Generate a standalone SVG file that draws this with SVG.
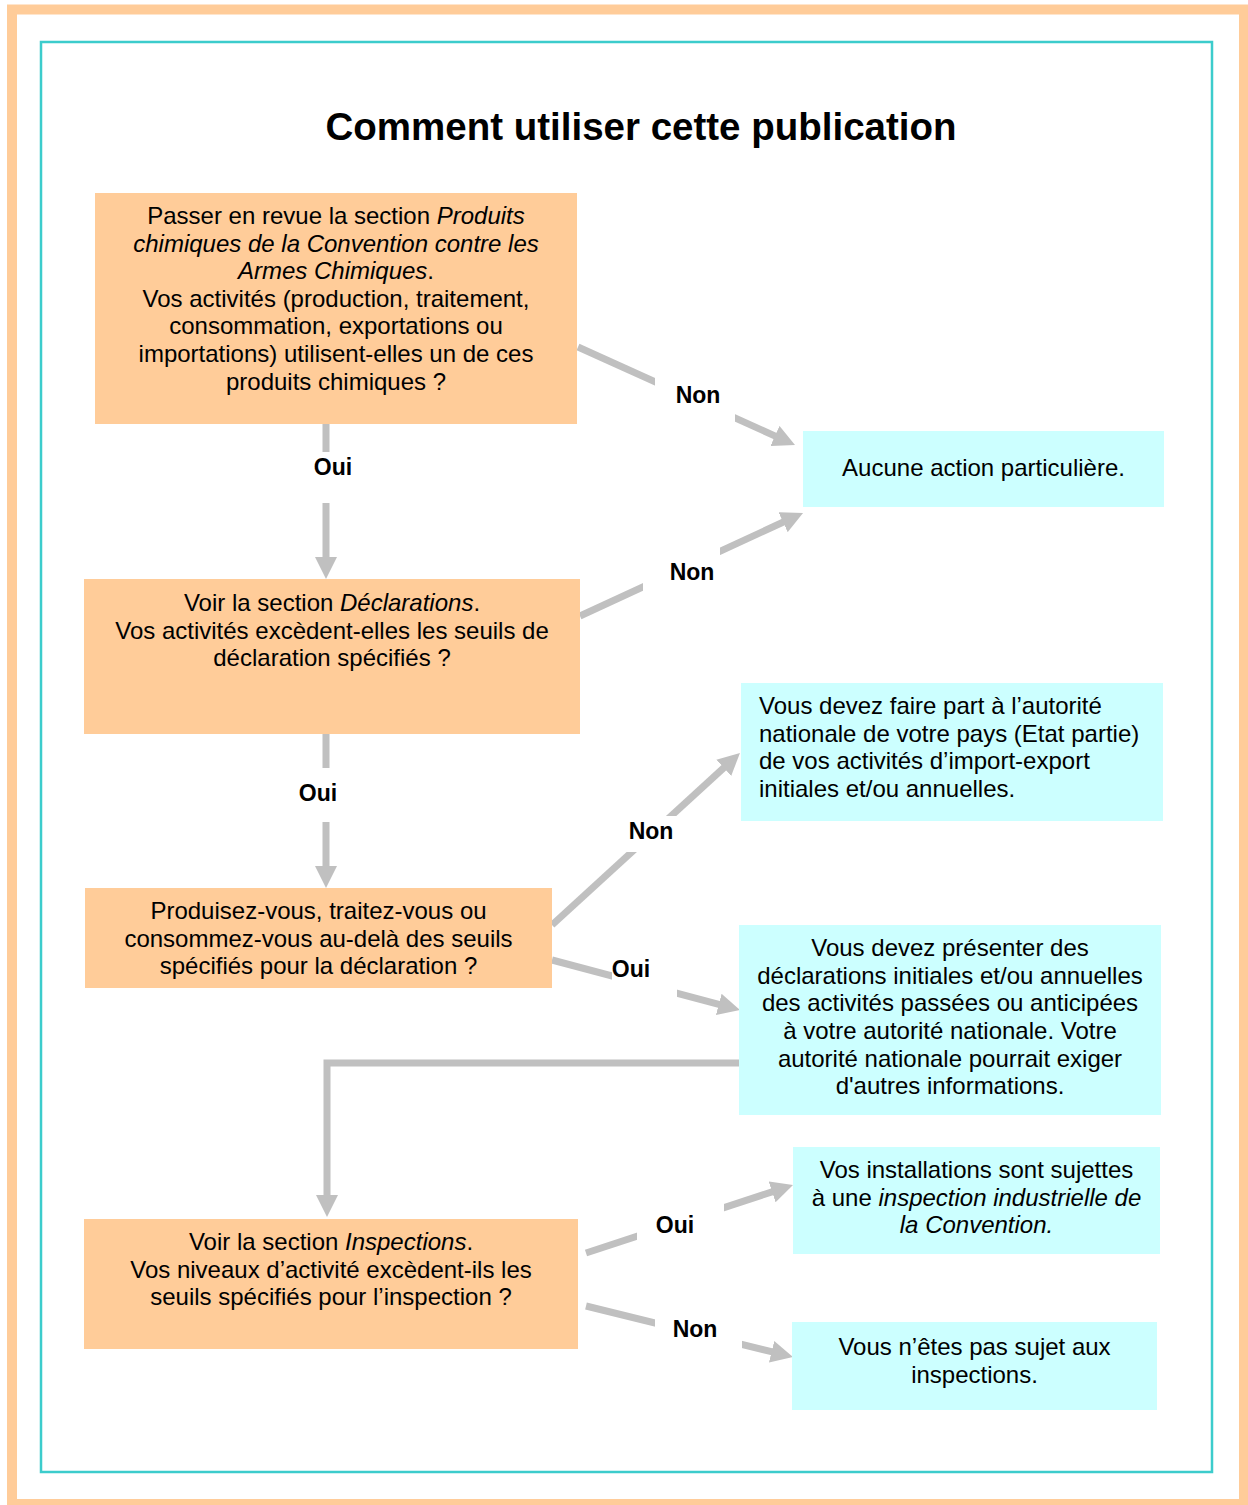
<svg xmlns="http://www.w3.org/2000/svg" width="1248" height="1505" viewBox="0 0 1248 1505">
<style>
.dec{fill:#FFCC99;}
.res{fill:#CCFFFF;}
.t{font-family:"Liberation Sans",Arial,sans-serif;font-size:24px;fill:#000;}
.c{text-anchor:middle;}
.i{font-style:italic;}
.lbl{font-family:"Liberation Sans",Arial,sans-serif;font-size:23px;font-weight:bold;fill:#000;text-anchor:middle;}
.ln{fill:none;stroke:#C0C0C0;stroke-width:7;}
.ar{marker-end:url(#ah);}
.gap{fill:#FFFFFF;}
</style>
<defs>
<marker id="ah" markerUnits="userSpaceOnUse" markerWidth="22" markerHeight="22" refX="4" refY="11" orient="auto">
<path d="M0,0 L22,11 L0,22 z" fill="#C0C0C0"/>
</marker>
</defs>
<rect x="0" y="0" width="1248" height="1505" fill="#FFFFFF"/>
<rect x="12" y="9.5" width="1232" height="1494.5" fill="none" stroke="#FFCC99" stroke-width="10"/>
<rect x="41" y="42" width="1171" height="1430" fill="none" stroke="#3CCCCC" stroke-width="2.5"/>
<text x="641" y="140" font-family="'Liberation Sans',Arial,sans-serif" font-size="38.5" font-weight="bold" text-anchor="middle" fill="#000">Comment utiliser cette publication</text>

<g id="connectors">
<line class="ln ar" x1="578" y1="347" x2="778.6" y2="437.6"/>
<line class="ln ar" x1="580" y1="616" x2="786.7" y2="520.5"/>
<line class="ln ar" x1="326" y1="424" x2="326" y2="561"/>
<line class="ln ar" x1="326" y1="734" x2="326" y2="870"/>
<line class="ln ar" x1="552" y1="925" x2="726.7" y2="765.1"/>
<line class="ln ar" x1="552" y1="960" x2="722.6" y2="1005.4"/>
<polyline class="ln ar" points="741,1063 327,1063 327,1199"/>
<line class="ln ar" x1="586" y1="1253" x2="775.9" y2="1190.6"/>
<line class="ln ar" x1="586" y1="1306" x2="775.5" y2="1352.7"/>
<rect class="gap" x="655" y="370" width="80" height="60"/>
<rect class="gap" x="643" y="540" width="77" height="58"/>
<rect class="gap" x="305" y="452" width="55" height="51"/>
<rect class="gap" x="295" y="768" width="50" height="54"/>
<rect class="gap" x="610" y="816" width="85" height="36"/>
<rect class="gap" x="612" y="950" width="65" height="52"/>
<rect class="gap" x="637" y="1185" width="87" height="65"/>
<rect class="gap" x="655" y="1300" width="87" height="52"/>
<text class="lbl" x="698" y="403">Non</text>
<text class="lbl" x="692" y="580">Non</text>
<text class="lbl" x="333" y="475">Oui</text>
<text class="lbl" x="318" y="801">Oui</text>
<text class="lbl" x="651" y="839">Non</text>
<text class="lbl" x="631" y="977">Oui</text>
<text class="lbl" x="675" y="1233">Oui</text>
<text class="lbl" x="695" y="1337">Non</text>
</g>

<g id="q1">
<rect class="dec" x="95" y="193" width="482" height="231"/>
<text class="t c" x="336" y="224">Passer en revue la section <tspan class="i">Produits</tspan></text>
<text class="t c i" x="336" y="251.6">chimiques de la Convention contre les</text>
<text class="t c" x="336" y="279.2"><tspan class="i">Armes Chimiques</tspan>.</text>
<text class="t c" x="336" y="306.8">Vos activités (production, traitement,</text>
<text class="t c" x="336" y="334.4">consommation, exportations ou</text>
<text class="t c" x="336" y="362">importations) utilisent-elles un de ces</text>
<text class="t c" x="336" y="389.6">produits chimiques ?</text>
</g>

<g id="r-aucune">
<rect class="res" x="803" y="431" width="361" height="76"/>
<text class="t c" x="983.5" y="476">Aucune action particulière.</text>
</g>

<g id="q2">
<rect class="dec" x="84" y="579" width="496" height="155"/>
<text class="t c" x="332" y="611">Voir la section <tspan class="i">Déclarations</tspan>.</text>
<text class="t c" x="332" y="638.6">Vos activités excèdent-elles les seuils de</text>
<text class="t c" x="332" y="666.2">déclaration spécifiés ?</text>
</g>

<g id="r-importexport">
<rect class="res" x="741" y="683" width="422" height="138"/>
<text class="t" x="759" y="714">Vous devez faire part à l’autorité</text>
<text class="t" x="759" y="741.6">nationale de votre pays (Etat partie)</text>
<text class="t" x="759" y="769.2">de vos activités d’import-export</text>
<text class="t" x="759" y="796.8">initiales et/ou annuelles.</text>
</g>

<g id="q3">
<rect class="dec" x="85" y="888" width="467" height="100"/>
<text class="t c" x="318.5" y="919">Produisez-vous, traitez-vous ou</text>
<text class="t c" x="318.5" y="946.6">consommez-vous au-delà des seuils</text>
<text class="t c" x="318.5" y="974.2">spécifiés pour la déclaration ?</text>
</g>

<g id="r-declarations">
<rect class="res" x="739" y="925" width="422" height="190"/>
<text class="t c" x="950" y="956">Vous devez présenter des</text>
<text class="t c" x="950" y="983.7">déclarations initiales et/ou annuelles</text>
<text class="t c" x="950" y="1011.3">des activités passées ou anticipées</text>
<text class="t c" x="950" y="1039">à votre autorité nationale. Votre</text>
<text class="t c" x="950" y="1066.6">autorité nationale pourrait exiger</text>
<text class="t c" x="950" y="1094.3">d'autres informations.</text>
</g>

<g id="r-inspection">
<rect class="res" x="793" y="1147" width="367" height="107"/>
<text class="t c" x="976.5" y="1178">Vos installations sont sujettes</text>
<text class="t c" x="976.5" y="1205.7">à une <tspan class="i">inspection industrielle de</tspan></text>
<text class="t c i" x="976.5" y="1233">la Convention.</text>
</g>

<g id="q4">
<rect class="dec" x="84" y="1219" width="494" height="130"/>
<text class="t c" x="331" y="1250">Voir la section <tspan class="i">Inspections</tspan>.</text>
<text class="t c" x="331" y="1277.6">Vos niveaux d’activité excèdent-ils les</text>
<text class="t c" x="331" y="1305.2">seuils spécifiés pour l’inspection ?</text>
</g>

<g id="r-noinspection">
<rect class="res" x="792" y="1322" width="365" height="88"/>
<text class="t c" x="974.5" y="1355">Vous n’êtes pas sujet aux</text>
<text class="t c" x="974.5" y="1382.6">inspections.</text>
</g>
</svg>
